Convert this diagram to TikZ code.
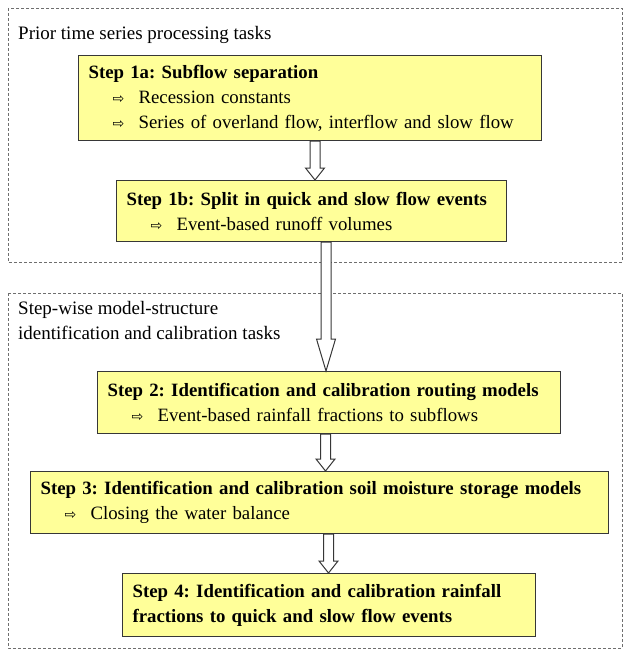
\documentclass[tikz,border=0pt]{standalone}
\usepackage{fontspec}
\setmainfont{Liberation Serif}
\newfontfamily\arrowfont{DejaVu Sans}
\usepackage{tikz}
\usetikzlibrary{calc}

\definecolor{boxyellow}{RGB}{255,255,153}
\definecolor{boxline}{RGB}{55,55,55}
\definecolor{frameline}{RGB}{110,110,110}

\frenchspacing
\newcommand\outcome[1]{\hspace*{24pt}\makebox[26pt][l]{\arrowfont\fontsize{14}{14}\selectfont ⇨}#1}

% hollow block arrow: from node, to node, x column, head length
\newcommand\blockarrow[4]{%
  \filldraw[blockline] ($(#1.south -| #3)+(-5,0)$) -- ($(#2.north -| #3)+(-5,-#4)$)
    -- ($(#2.north -| #3)+(-9.5,-#4)$) -- (#2.north -| #3)
    -- ($(#2.north -| #3)+(9.5,-#4)$) -- ($(#2.north -| #3)+(5,-#4)$)
    -- ($(#1.south -| #3)+(5,0)$) -- cycle;}

\tikzset{
  stepbox/.style={draw=boxline, line width=1.1pt, fill=boxyellow, align=left,
    anchor=north west, inner xsep=10pt, inner ysep=0pt,
    font=\fontsize{18.8}{25}\selectfont},
  grouptitle/.style={align=left, inner sep=0pt, font=\fontsize{19}{25}\selectfont},
  groupframe/.style={draw=frameline, dash pattern=on 3pt off 2pt, line width=0.8pt},
  blockline/.style={draw=boxline, fill=white, line width=1pt}
}

\begin{document}
\begin{tikzpicture}[x=1pt,y=-1pt]
\useasboundingbox (0,0) rectangle (625,650);

% group frames
\draw[groupframe] (8,8) rectangle (622,262);
\draw[groupframe] (8,293) rectangle (622,648);
\node[grouptitle, anchor=west] (prior) at (18,35) {Prior time series processing tasks};
\node[grouptitle, anchor=north west] (stepwise) at (18,301) {Step-wise model-structure\\identification and calibration tasks};

% steps
\node[stepbox, text width=443, minimum height=85] (s1a) at (78,55)
  {\textbf{Step 1a: Subflow separation}\\
   \outcome{Recession constants}\\
   \outcome{Series of overland flow, interflow and slow flow}};
\node[stepbox, text width=370, minimum height=61] (s1b) at (116,180)
  {\textbf{Step 1b: Split in quick and slow flow events}\\
   \outcome{Event-based runoff volumes}};
\node[stepbox, text width=443, minimum height=62] (s2) at (97,371)
  {\textbf{Step 2: Identification and calibration routing models}\\
   \outcome{Event-based rainfall fractions to subflows}};
\node[stepbox, text width=558, minimum height=62] (s3) at (30,471)
  {\textbf{Step 3: Identification and calibration soil moisture storage models}\\
   \outcome{Closing the water balance}};
\node[stepbox, text width=393, minimum height=63] (s4) at (122,573)
  {\textbf{Step 4: Identification and calibration rainfall}\\
   \textbf{fractions to quick and slow flow events}};

% arrows
\coordinate (col1) at (315,0);
\coordinate (col2) at (326,0);
\coordinate (col3) at (325.5,0);
\coordinate (col4) at (328.5,0);
\blockarrow{s1a}{s1b}{col1}{12}
\blockarrow{s1b}{s2}{col2}{32}
\blockarrow{s2}{s3}{col3}{12}
\blockarrow{s3}{s4}{col4}{12}
\end{tikzpicture}
\end{document}
